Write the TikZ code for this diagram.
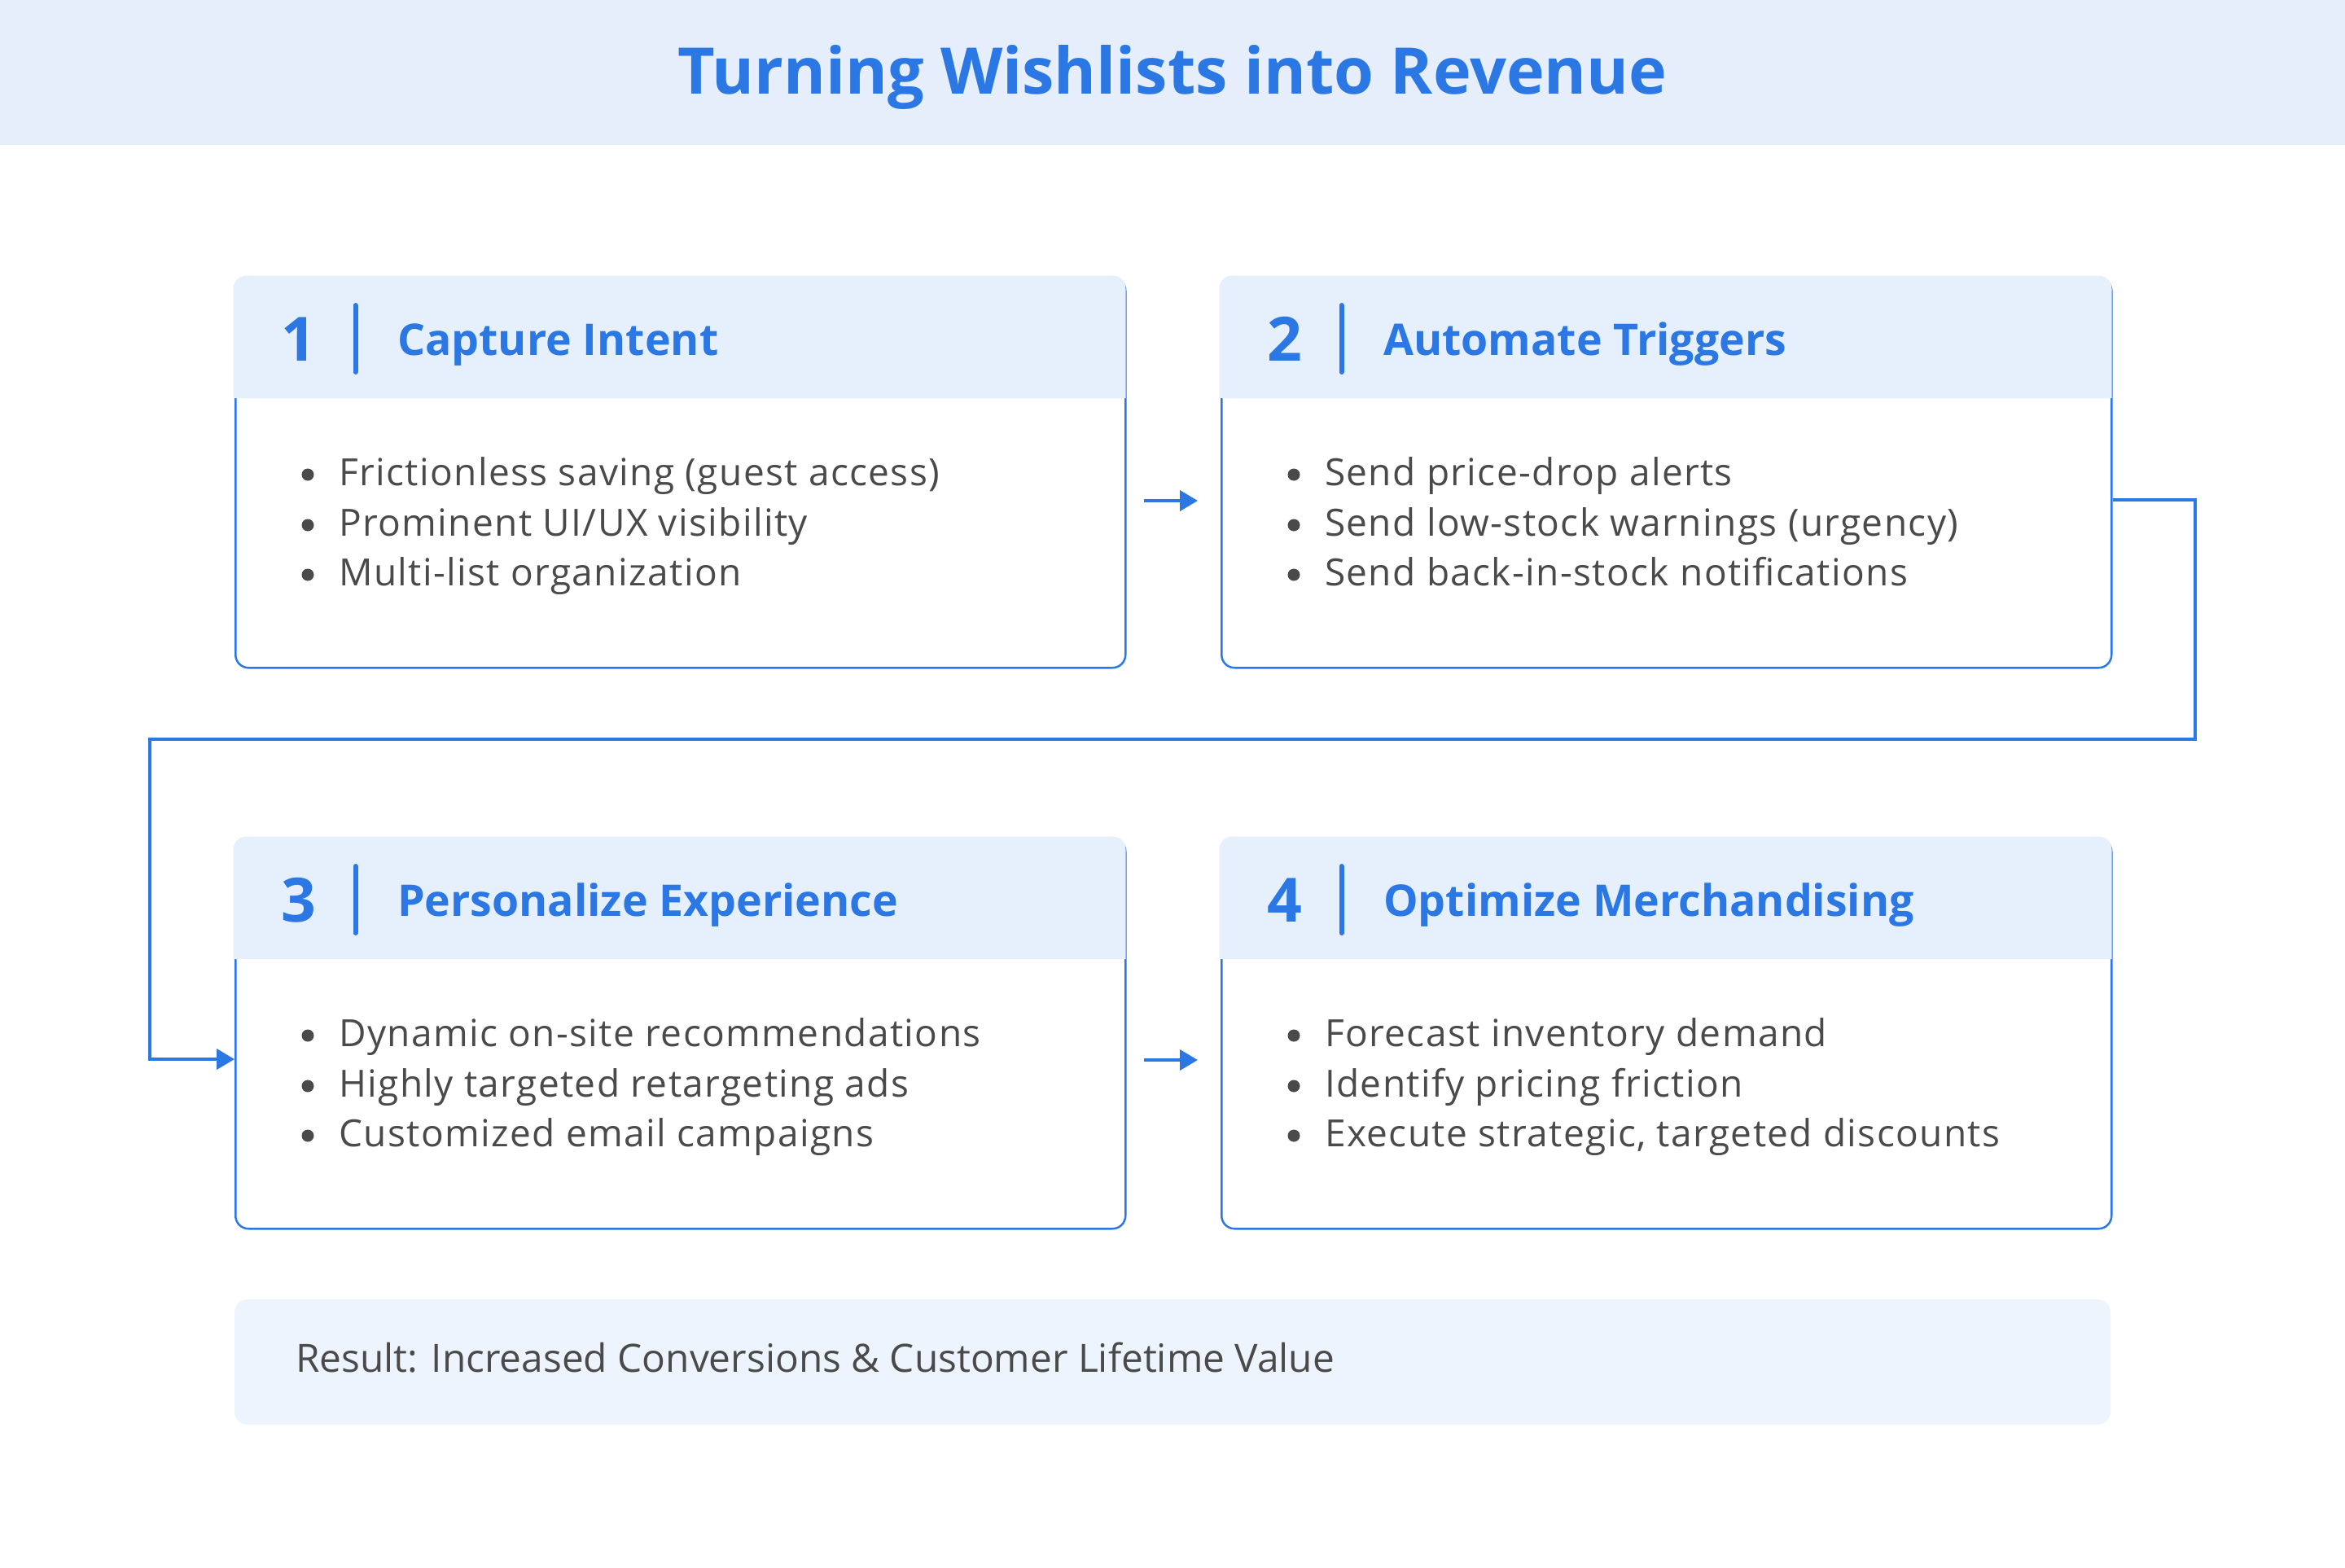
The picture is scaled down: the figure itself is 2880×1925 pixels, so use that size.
\documentclass[tikz,border=0pt]{standalone}
\usepackage{fontspec}
\setmainfont{Open Sans}
\usetikzlibrary{arrows.meta,calc}

\definecolor{brand}{HTML}{2B78E4}
\definecolor{bandfill}{HTML}{E6EEFC}
\definecolor{headfill}{HTML}{E6EFFC}
\definecolor{resfill}{HTML}{EEF4FD}
\definecolor{bodytext}{HTML}{4A4A4A}

\tikzset{
  cardbox/.style={draw=brand, line width=2.5pt, fill=white, rounded corners=16pt,
    minimum width=1093pt, minimum height=479pt, anchor=north west, inner sep=0pt},
  numtext/.style={anchor=base west, inner sep=0pt, text=brand,
    font=\fontsize{75}{90}\selectfont\bfseries},
  headtext/.style={anchor=base west, inner sep=0pt, text=brand,
    font=\fontsize{53.6}{66}\selectfont\bfseries},
  itemtext/.style={anchor=base west, inner sep=0pt, text=bodytext,
    font=\fontsize{46}{55}\selectfont\addfontfeatures{LetterSpace=3}},
  conn/.style={draw=brand, line width=4pt, -{Triangle[length=22pt,width=25pt]}},
  loopconn/.style={conn, line join=miter},
}

% one numbered card: #1 name, #2 left, #3 top, #4 number, #5 heading, #6-#8 items
\newcommand{\stepcard}[8]{%
  \node[cardbox] (#1) at (#2,#3) {};
  \fill[headfill] (#2-1.5,#3+149) [rounded corners=16pt] -- (#2-1.5,#3-1.5)
     -- (#2+1094.5,#3-1.5) [sharp corners] -- (#2+1094.5,#3+149) -- cycle;
  \node[numtext] (#1-num) at (#2+57,#3+103) {#4};
  \draw[brand, line width=6pt, line cap=round] (#2+148.5,#3+35) -- (#2+148.5,#3+117);
  \node[headtext] (#1-head) at (#2+200,#3+96) {#5};
  \fill[bodytext] (#2+90,#3+243) circle (7.5);
  \node[itemtext] (#1-i1) at (#2+128,#3+256) {#6};
  \fill[bodytext] (#2+90,#3+305) circle (7.5);
  \node[itemtext] (#1-i2) at (#2+128,#3+318) {#7};
  \fill[bodytext] (#2+90,#3+366) circle (7.5);
  \node[itemtext] (#1-i3) at (#2+128,#3+379) {#8};
}

\begin{document}
\begin{tikzpicture}[x=1pt,y=-1pt]
  \useasboundingbox (0,0) rectangle (2880,1925);
  \fill[white] (0,0) rectangle (2880,1925);

  % title band
  \fill[bandfill] (0,0) rectangle (2880,178);
  \node[anchor=base, inner sep=0pt, text=brand,
        font=\fontsize{79}{100}\selectfont\bfseries] (title) at (1440,115)
        {Turning Wishlists into Revenue};

  \stepcard{s1}{288}{340}{1}{Capture Intent}
    {Frictionless saving (guest access)}{Prominent UI/UX visibility}{Multi-list organization}
  \stepcard{s2}{1499}{340}{2}{Automate Triggers}
    {Send price-drop alerts}{Send low-stock warnings (urgency)}{Send back-in-stock notifications}
  \stepcard{s3}{288}{1029}{3}{Personalize Experience}
    {Dynamic on-site recommendations}{Highly targeted retargeting ads}{Customized email campaigns}
  \stepcard{s4}{1499}{1029}{4}{Optimize Merchandising}
    {Forecast inventory demand}{Identify pricing friction}{Execute strategic, targeted discounts}

  % connectors
  \coordinate (a12s) at (1405,615);
  \coordinate (a12e) at (1471,615);
  \draw[conn] (a12s) -- (a12e);

  \coordinate (a34s) at (1405,1302);
  \coordinate (a34e) at (1471,1302);
  \draw[conn] (a34s) -- (a34e);

  \draw[loopconn] (s2.east |- 0,614) -- (2696,614) -- (2696,908) -- (184,908)
     -- (184,1301) -- (s3.west |- 0,1301);

  % result banner
  \fill[resfill, rounded corners=16pt] (288,1596) rectangle (2592,1750);
  \node[anchor=base west, inner sep=0pt, text=bodytext,
        font=\fontsize{47.8}{56}\selectfont] (result) at (363,1685)
        {Result: Increased Conversions \& Customer Lifetime Value};
\end{tikzpicture}
\end{document}
